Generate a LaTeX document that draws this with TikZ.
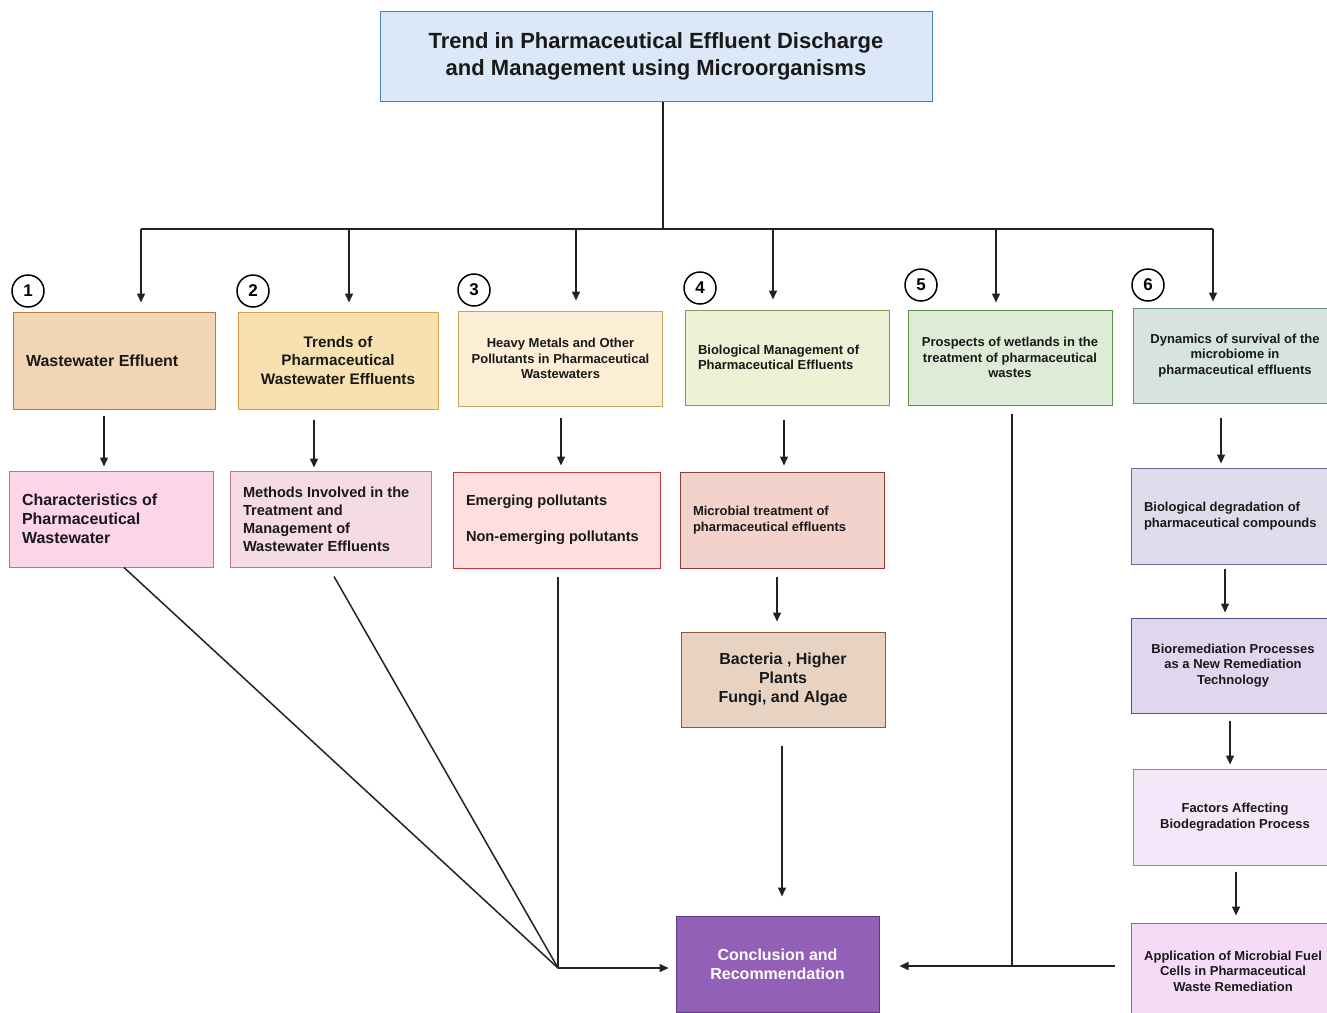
\documentclass[tikz,border=0pt]{standalone}
\usepackage{fontspec}
\setmainfont{Liberation Sans}
\usepackage{tikz}
\usetikzlibrary{arrows,arrows.meta}

\definecolor{trait}{HTML}{222222}
\definecolor{titrefond}{HTML}{DCE8F8}
\definecolor{titrebord}{HTML}{4F7FB0}

\begin{document}
\begin{tikzpicture}[x=1pt, y=-1pt,
    boite/.style={draw, line width=1pt, inner xsep=13pt, inner ysep=0pt, align=center, text=black!90},
    gauche/.style={align=flush left, text width=#1},
    numero/.style={draw, circle, line width=1.5pt, inner sep=0pt, minimum size=32pt, font=\fontsize{17}{17}\selectfont\bfseries},
    grand/.style={font=\fontsize{16}{19}\selectfont\bfseries},
    moyen/.style={font=\fontsize{14.6}{18}\selectfont\bfseries},
    petit/.style={font=\fontsize{13}{15.5}\selectfont\bfseries},
    lien/.style={line width=1.5pt, draw=trait},
    fleche/.style={-{Triangle[length=9pt,width=8pt]}, line width=1.5pt, draw=trait, fill=trait}]
    \useasboundingbox (0,0) rectangle (1327,1012);
    % Titre
    \node[boite, fill=titrefond, draw=titrebord, minimum width=552, minimum height=90, font=\fontsize{22}{27}\selectfont\bfseries] at (656,56) (titre) {Trend in Pharmaceutical Effluent Discharge\\and Management using Microorganisms};
    % Numeros
    \node[numero] at (28,291) (n1) {1};
    \node[numero] at (253,291) (n2) {2};
    \node[numero] at (474,290) (n3) {3};
    \node[numero] at (700,288) (n4) {4};
    \node[numero] at (921,285) (n5) {5};
    \node[numero] at (1148,285) (n6) {6};
    % Premiere rangee
    \node[boite, grand, gauche=176pt, fill={rgb,255:red,242;green,213;blue,181}, draw={rgb,255:red,184;green,120;blue,74}, minimum width=202, minimum height=97] at (114,360.5) (effluent) {Wastewater Effluent};
    \node[boite, moyen, font=\fontsize{15.3}{18.5}\selectfont\bfseries, fill={rgb,255:red,248;green,225;blue,176}, draw={rgb,255:red,217;green,161;blue,74}, minimum width=200, minimum height=97] at (338,360.5) (tendances) {Trends of\\Pharmaceutical\\Wastewater Effluents};
    \node[boite, petit, fill={rgb,255:red,252;green,239;blue,213}, draw={rgb,255:red,201;green,165;blue,90}, minimum width=203, minimum height=95] at (560.5,358.5) (metaux) {Heavy Metals and Other\\Pollutants in Pharmaceutical\\Wastewaters};
    \node[boite, petit, gauche=178pt, fill={rgb,255:red,237;green,241;blue,214}, draw={rgb,255:red,124;green,155;blue,87}, minimum width=204, minimum height=95] at (787,357.5) (biologique) {Biological Management of\\Pharmaceutical Effluents};
    \node[boite, petit, fill={rgb,255:red,222;green,235;blue,215}, draw={rgb,255:red,94;green,142;blue,78}, minimum width=204, minimum height=95] at (1010,357.5) (zones) {Prospects of wetlands in the\\treatment of pharmaceutical\\wastes};
    \node[boite, petit, fill={rgb,255:red,214;green,227;blue,224}, draw={rgb,255:red,110;green,140;blue,137}, minimum width=204, minimum height=95] at (1235,355.5) (dynamique) {Dynamics of survival of the\\microbiome in\\pharmaceutical effluents};
    % Deuxieme rangee
    \node[boite, grand, gauche=178pt, fill={rgb,255:red,252;green,213;blue,232}, draw={rgb,255:red,199;green,108;blue,152}, minimum width=204, minimum height=96] at (111,519) (caracteristiques) {Characteristics of\\Pharmaceutical\\Wastewater};
    \node[boite, moyen, gauche=175pt, fill={rgb,255:red,245;green,220;blue,227}, draw={rgb,255:red,183;green,122;blue,142}, minimum width=201, minimum height=96] at (330.5,519) (methodes) {Methods Involved in the\\Treatment and\\Management of\\Wastewater Effluents};
    \node[boite, moyen, gauche=181pt, fill={rgb,255:red,255;green,222;blue,222}, draw={rgb,255:red,192;green,57;blue,59}, minimum width=207, minimum height=96] at (556.5,520) (polluants) {Emerging pollutants\\[18pt]Non-emerging pollutants};
    \node[boite, petit, gauche=178pt, fill={rgb,255:red,242;green,210;blue,203}, draw={rgb,255:red,142;green,59;blue,59}, minimum width=204, minimum height=96] at (782,520) (microbien) {Microbial treatment of\\pharmaceutical effluents};
    \node[boite, petit, gauche=178pt, fill={rgb,255:red,223;green,221;blue,235}, draw={rgb,255:red,106;green,108;blue,149}, minimum width=204, minimum height=96] at (1233,516) (degradation) {Biological degradation of\\pharmaceutical compounds};
    % Troisieme rangee et suite
    \node[boite, grand, fill={rgb,255:red,232;green,211;blue,195}, draw={rgb,255:red,142;green,90;blue,58}, minimum width=204, minimum height=95] at (783,679.5) (bacteries) {Bacteria , Higher\\Plants\\Fungi, and Algae};
    \node[boite, petit, fill={rgb,255:red,224;green,215;blue,238}, draw={rgb,255:red,91;green,74;blue,140}, minimum width=204, minimum height=95] at (1233,665.5) (bioremediation) {Bioremediation Processes\\as a New Remediation\\Technology};
    \node[boite, petit, fill={rgb,255:red,244;green,231;blue,249}, draw={rgb,255:red,160;green,123;blue,184}, minimum width=204, minimum height=96] at (1235,817) (facteurs) {Factors Affecting\\Biodegradation Process};
    \node[boite, petit, fill={rgb,255:red,246;green,219;blue,246}, draw={rgb,255:red,160;green,90;blue,165}, minimum width=204, minimum height=96] at (1233,971) (piles) {Application of Microbial Fuel\\Cells in Pharmaceutical\\Waste Remediation};
    \node[boite, grand, text=white, fill={rgb,255:red,146;green,96;blue,182}, draw={rgb,255:red,91;green,60;blue,133}, minimum width=203, minimum height=96] at (777.5,964) (conclusion) {Conclusion and\\Recommendation};
    % Branches du titre
    \coordinate (bus) at (663,229);
    \coordinate (g1) at (141,229);
    \coordinate (g2) at (349,229);
    \coordinate (g3) at (576,229);
    \coordinate (g4) at (773,229);
    \coordinate (g5) at (996,229);
    \coordinate (g6) at (1213,229);
    \draw[lien] (titre.south -| bus) -- (bus);
    \draw[lien] (g1) -- (g6);
    \draw[fleche, shorten >=9pt] (g1) -- (effluent.north -| g1);
    \draw[fleche, shorten >=9pt] (g2) -- (tendances.north -| g2);
    \draw[fleche, shorten >=10pt] (g3) -- (metaux.north -| g3);
    \draw[fleche, shorten >=10pt] (g4) -- (biologique.north -| g4);
    \draw[fleche, shorten >=7pt] (g5) -- (zones.north -| g5);
    \draw[fleche, shorten >=6pt] (g6) -- (dynamique.north -| g6);
    % Fleches verticales
    \draw[fleche, shorten <=6pt, shorten >=4pt] ([xshift=-10pt]effluent.south) -- ([xshift=-7pt]caracteristiques.north);
    \draw[fleche, shorten <=10pt, shorten >=3pt] ([xshift=-24pt]tendances.south) -- ([xshift=-16.5pt]methodes.north);
    \draw[fleche, shorten <=11pt, shorten >=6pt] ([xshift=0.5pt]metaux.south) -- ([xshift=4.5pt]polluants.north);
    \draw[fleche, shorten <=14pt, shorten >=6pt] ([xshift=-3pt]biologique.south) -- ([xshift=2pt]microbien.north);
    \draw[fleche, shorten <=8pt, shorten >=10pt] ([xshift=-5pt]microbien.south) -- ([xshift=-6pt]bacteries.north);
    \draw[fleche, shorten <=18pt, shorten >=19pt] ([xshift=-1pt]bacteries.south) -- ([xshift=4.5pt]conclusion.north);
    \draw[fleche, shorten <=14pt, shorten >=4pt] ([xshift=-14pt]dynamique.south) -- ([xshift=-12pt]degradation.north);
    \draw[fleche, shorten <=4pt, shorten >=5pt] ([xshift=-8pt]degradation.south) -- ([xshift=-8pt]bioremediation.north);
    \draw[fleche, shorten <=7pt, shorten >=4pt] ([xshift=-3pt]bioremediation.south) -- ([xshift=-5pt]facteurs.north);
    \draw[fleche, shorten <=6pt, shorten >=7pt] ([xshift=1pt]facteurs.south) -- ([xshift=3pt]piles.north);
    % Convergence vers la conclusion
    \coordinate (jonction) at (558,968);
    \coordinate (arrivee) at (1012,966);
    \draw[lien] ([xshift=13pt]caracteristiques.south) -- (jonction);
    \draw[lien] ([xshift=3.5pt, yshift=-9pt]methodes.south) -- (jonction);
    \draw[lien] ([xshift=1.5pt, yshift=-8pt]polluants.south) -- (jonction);
    \draw[fleche, shorten >=7pt] (jonction) -- (conclusion.west |- jonction);
    \draw[lien, shorten <=8pt] ([xshift=2pt]zones.south) -- (arrivee);
    \draw[fleche, shorten <=16pt, shorten >=20pt] (piles.west |- arrivee) -- (conclusion.east |- arrivee);
\end{tikzpicture}
\end{document}
